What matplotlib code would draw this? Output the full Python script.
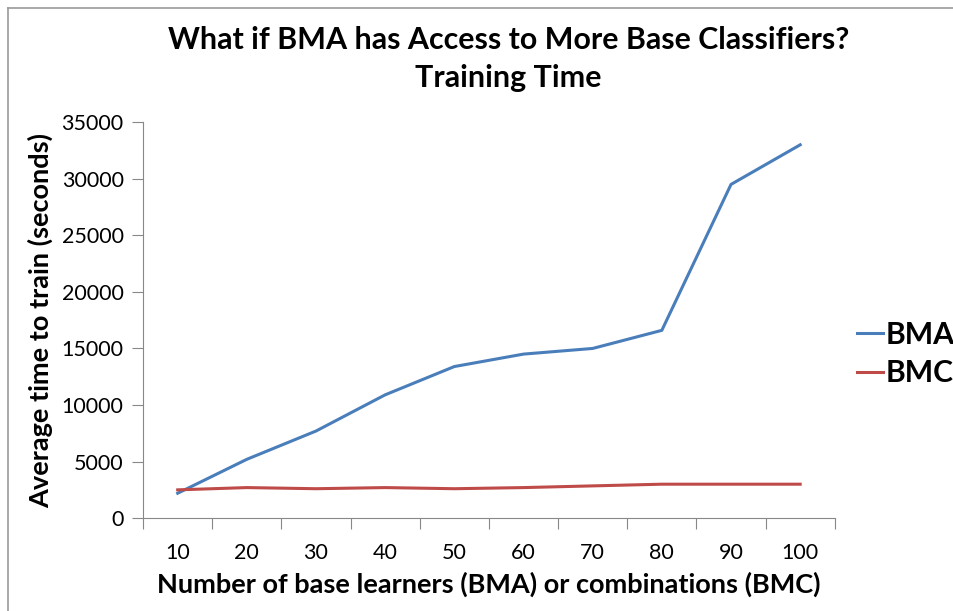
#!/usr/bin/env python3
"""Training time of BMA vs BMC as the number of base learners grows."""

import matplotlib

matplotlib.use("Agg")
import matplotlib.pyplot as plt
from matplotlib.lines import Line2D

CATEGORIES = ["10", "20", "30", "40", "50", "60", "70", "80", "90", "100"]
BMA = [2200, 5200, 7700, 10900, 13400, 14500, 15000, 16600, 29500, 33000]
BMC = [2500, 2700, 2600, 2700, 2600, 2700, 2850, 3000, 3000, 3000]

plt.rcParams.update({"font.family": ["Lato", "DejaVu Sans"]})

fig = plt.figure(figsize=(9.54, 6.11), dpi=100)
# thin frame on the left and top edges, as in the original screenshot
frame = dict(transform=fig.transFigure, color="#9a9a9a", lw=1.2)
fig.add_artist(Line2D([0.0084, 0.0084], [0.0, 0.987], **frame))
fig.add_artist(Line2D([0.0084, 1.0], [0.987, 0.987], **frame))

ax = fig.add_axes([0.150, 0.152, 0.725, 0.648])

x = list(range(1, len(CATEGORIES) + 1))
ax.plot(x, BMA, color="#4A7EBB", lw=2.2, label="BMA")
ax.plot(x, BMC, color="#BE4B48", lw=2.2, label="BMC")

ax.set_xlim(0.5, len(CATEGORIES) + 0.5)
ax.set_ylim(0, 35000)
ax.set_yticks(range(0, 35001, 5000))
ax.set_xticks([i + 0.5 for i in range(len(CATEGORIES) + 1)])
ax.set_xticklabels([])
ax.set_xticks(x, minor=True)
ax.set_xticklabels(CATEGORIES, minor=True)
ax.tick_params(axis="x", which="major", length=8, color="#888888", direction="out")
ax.tick_params(axis="x", which="minor", length=0, pad=18, labelsize=15.5)
ax.tick_params(axis="y", length=8, color="#888888", labelsize=15.5, pad=6)
ax.spines[["top", "right"]].set_visible(False)
ax.spines[["left", "bottom"]].set_color("#888888")

ax.set_xlabel("Number of base learners (BMA) or combinations (BMC)",
              fontsize=19.5, fontweight="bold", labelpad=6)
ax.set_ylabel("Average time to train (seconds)", fontsize=19.5, fontweight="bold", labelpad=6)
fig.text(0.533, 0.935, "What if BMA has Access to More Base Classifiers?",
         ha="center", va="center", fontsize=21.9, fontweight="bold")
fig.text(0.533, 0.872, "Training Time", ha="center", va="center", fontsize=21.9, fontweight="bold")

ax.legend(loc="center left", bbox_to_anchor=(1.032, 0.415), frameon=False,
          borderpad=0, borderaxespad=0,
          handlelength=0.85, handletextpad=0.12, labelspacing=0.35,
          prop={"weight": "bold", "size": 21.7})

fig.savefig("out.png", dpi=100)
